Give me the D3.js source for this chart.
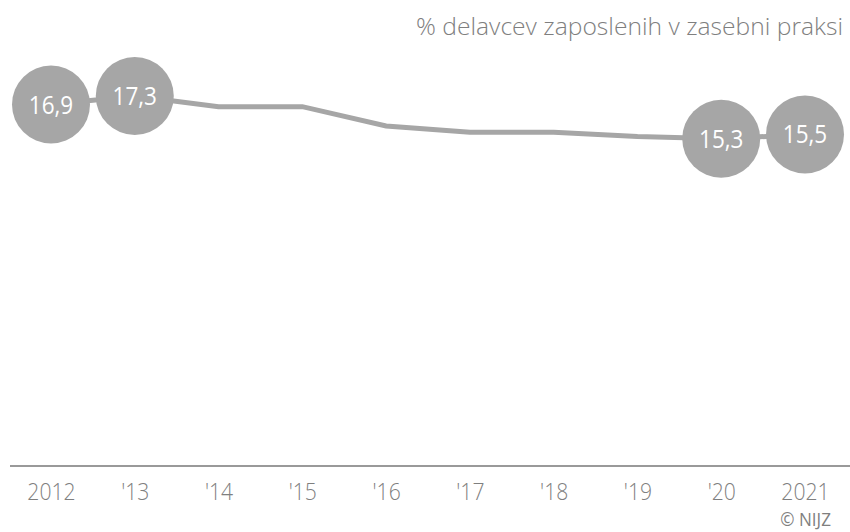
<!DOCTYPE html>
<html>
<head>
<meta charset="utf-8">
<script src="https://cdn.jsdelivr.net/npm/d3@7"></script>
<style>
  body { margin: 0; background: #fff; }
  svg text { font-family: "Open Sans", sans-serif; }
</style>
</head>
<body>
<div id="chart"></div>
<script>
document.addEventListener('DOMContentLoaded', function() {
    const width = 850;
    const height = 532;

    // Data
    const years = [2012, 2013, 2014, 2015, 2016, 2017, 2018, 2019, 2020, 2021];
    const tickLabels = ["2012", "'13", "'14", "'15", "'16", "'17", "'18", "'19", "'20", "2021"];
    const values = [16.9, 17.3, 16.8, 16.8, 15.9, 15.6, 15.6, 15.4, 15.3, 15.5];
    const labelledYears = [2012, 2013, 2020, 2021];
    const title = "% delavcev zaposlenih v zasebni praksi";
    const source = "© NIJZ";

    const data = years.map((y, i) => ({ year: y, value: values[i], tick: tickLabels[i] }));

    const grey = "#a6a6a6";
    const textGrey = "#7f7f7f";

    const svg = d3.select("#chart")
        .append("svg")
        .attr("width", width)
        .attr("height", height);

    // Scales
    const x = d3.scalePoint()
        .domain(years)
        .range([51, 805]);

    const y = d3.scaleLinear()
        .domain([0, 20])
        .range([466, 466 - 20 * 21.39]);

    // Title
    svg.append("text")
        .attr("x", 843)
        .attr("y", 35)
        .attr("text-anchor", "end")
        .attr("fill", textGrey)
        .attr("textLength", 427)
        .attr("lengthAdjust", "spacingAndGlyphs")
        .style("font-size", "23px")
        .style("font-weight", 300)
        .text(title);

    // Baseline
    svg.append("line")
        .attr("x1", 10)
        .attr("x2", 850)
        .attr("y1", y(0))
        .attr("y2", y(0))
        .attr("stroke", "#999")
        .attr("stroke-width", 2);

    // X axis labels
    const xAxis = svg.append("g")
        .attr("transform", `translate(0,${y(0)})`)
        .call(d3.axisBottom(x).tickSize(0).tickPadding(0).tickFormat((d, i) => tickLabels[i]));
    xAxis.select(".domain").remove();
    xAxis.selectAll("text")
        .attr("dy", null)
        .attr("x", 0)
        .attr("y", 34)
        .attr("transform", "scale(0.92,1)")
        .attr("fill", textGrey)
        .style("font-size", "23px")
        .style("font-weight", 300)
        .style("font-family", "'Open Sans', sans-serif");

    // Line
    const line = d3.line()
        .x(d => x(d.year))
        .y(d => y(d.value));

    svg.append("path")
        .datum(data)
        .attr("fill", "none")
        .attr("stroke", grey)
        .attr("stroke-width", 5)
        .attr("d", line);

    // Labelled circles
    const labelled = data.filter(d => labelledYears.includes(d.year));
    const bubbles = svg.selectAll(".bubble")
        .data(labelled)
        .enter().append("g")
        .attr("class", "bubble")
        .attr("transform", d => `translate(${x(d.year)},${y(d.value)})`);

    bubbles.append("circle")
        .attr("r", 39)
        .attr("fill", grey);

    bubbles.append("text")
        .attr("text-anchor", "middle")
        .attr("y", 9)
        .attr("transform", "scale(0.9,1)")
        .attr("fill", "#fff")
        .style("font-size", "25px")
        .text(d => d3.format(".1f")(d.value).replace(".", ","));

    // Source
    svg.append("text")
        .attr("x", 0)
        .attr("y", 0)
        .attr("text-anchor", "end")
        .attr("fill", textGrey)
        .attr("transform", "translate(831,526) scale(0.95,1)")
        .style("font-size", "18px")
        .text(source);
});
</script>
</body>
</html>
